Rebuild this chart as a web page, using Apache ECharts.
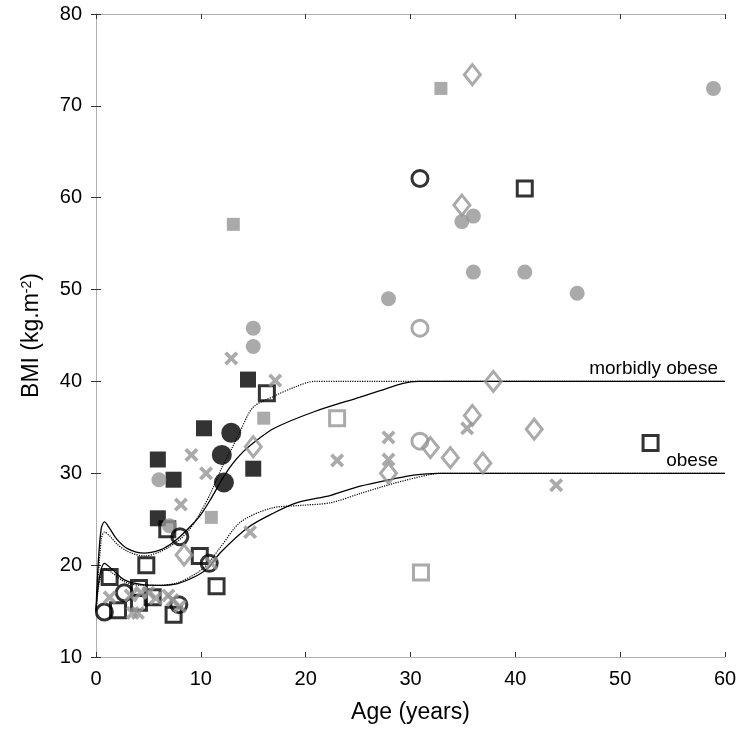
<!DOCTYPE html>
<html>
<head>
<meta charset="utf-8">
<script src="https://cdn.jsdelivr.net/npm/echarts@6/dist/echarts.min.js"></script>
<style>
  html, body { margin: 0; padding: 0; background: #fff; }
  #chart { width: 741px; height: 730px; }
</style>
</head>
<body>
<div id="chart"></div>
<script>
// 坐标轴刻度
var xTicks = [0, 10, 20, 30, 40, 50, 60];
var yTicks = [10, 20, 30, 40, 50, 60, 70, 80];

// 参考曲线 (年龄, BMI)
var upperSolid = [[0, 15], [0.2, 20], [0.5, 24], [0.8, 24.7], [1.3, 24.0], [2, 22.8], [3, 21.8], [4.6, 21.3], [6, 21.6], [7, 22.2], [8, 23.1], [9, 24.2], [10, 25.5], [11, 27.3], [12, 29.3], [13, 31.0], [14, 32.3], [15, 33.3], [17, 34.9], [20.8, 36.7], [25.2, 38.3], [27.1, 39], [29.3, 39.8], [30.7, 40], [60, 40]];
var upperDotted = [[0, 15], [0.5, 22.8], [0.8, 23.6], [1.3, 23.2], [2, 22.3], [3, 21.5], [4.6, 21.0], [6, 21.4], [7, 22], [8, 22.8], [9, 24], [10, 25.8], [11, 28], [12, 30.6], [13, 32.8], [13.8, 34.7], [15, 37.2], [17, 38.4], [19, 39.4], [20.8, 40], [60, 40]];
var lowerSolid = [[0, 15], [0.3, 18.5], [0.8, 20.2], [1.5, 19.6], [2.7, 18.4], [4.3, 17.9], [5.9, 17.8], [7.8, 18.0], [9.7, 18.9], [10.7, 19.7], [11.9, 21.4], [14.5, 24.1], [17, 25.7], [19.2, 26.8], [22.4, 27.6], [25.2, 28.6], [28.4, 29.4], [30.3, 29.8], [32.6, 30], [60, 30]];
var lowerDotted = [[0, 15], [0.3, 18], [0.8, 19.6], [1.5, 19.2], [2.7, 18.2], [4.3, 17.8], [5.9, 17.8], [7.8, 18.1], [9.7, 19.2], [10.7, 20.2], [11.9, 22.0], [13.8, 24.7], [16.7, 26.2], [19.5, 26.5], [22.4, 26.8], [25.2, 27.8], [28.4, 28.9], [31.6, 29.8], [33, 30], [60, 30]];

// 阈值标签
var thresholds = [40, 30];
var thresholdNames = ['morbidly obese', 'obese'];

// 散点数据 (年龄, BMI)
var blackSquare = [[10.3, 34.9], [5.9, 31.5], [7.4, 29.3], [5.9, 25.1], [14.5, 40.2], [15.0, 30.5]];
var greySquare = [[13.1, 57.1], [32.9, 71.9], [16.0, 36.0], [11.0, 25.2]];
var blackDot = [[12.9, 34.4], [12.0, 32.0], [12.2, 29.0]];
var greyDot = [[6.0, 29.3], [7.0, 24.3], [15.0, 45.8], [15.0, 43.8], [27.9, 49.0], [34.9, 57.4], [36.0, 58.0], [36.0, 51.9], [40.9, 51.9], [45.9, 49.6], [58.9, 71.9]];
var blackCircle = [[30.9, 62.1], [8.0, 23.1], [10.8, 20.2], [0.8, 14.9], [2.7, 17.0], [7.9, 15.7]];
var greyCircle = [[30.9, 45.8], [30.9, 33.5]];
var blackOpenSquare = [[16.3, 38.7], [40.9, 61.0], [52.9, 33.3], [6.8, 23.9], [9.9, 21.0], [4.8, 20.0], [1.3, 18.7], [11.5, 17.7], [2.1, 15.1], [4.1, 17.5], [5.4, 16.5], [4.1, 15.9], [7.4, 14.6]];
var greyOpenSquare = [[23.0, 36.0], [31.0, 19.2]];
var greyDiamond = [[35.9, 73.4], [34.9, 59.2], [37.9, 40.0], [35.9, 36.3], [41.8, 34.8], [31.9, 32.8], [33.8, 31.7], [36.9, 31.1], [27.9, 30.0], [15.0, 32.9], [8.4, 21.1]];
var greyCross = [[12.9, 42.5], [17.1, 40.1], [9.1, 32.0], [10.5, 30.0], [8.1, 26.6], [14.7, 23.6], [23.0, 31.4], [27.9, 33.9], [27.9, 31.5], [35.4, 34.9], [43.9, 28.7], [11.0, 20.2], [1.3, 16.5], [3.3, 16.7], [4.3, 17.0], [5.0, 17.0], [5.7, 16.4], [6.9, 16.7], [7.3, 16.2], [3.5, 14.8], [4.0, 14.8], [8.0, 15.5]];

var GREY = '#959595';
var FONT = 'Liberation Sans, Arial, sans-serif';
var crossPath = 'path://M3,0L8,5L13,0L16,3L11,8L16,13L13,16L8,11L3,16L0,13L5,8L0,3Z';

var chart = echarts.init(document.getElementById('chart'));

function curve(data, dotted, withLabel) {
    var s = {
        type: 'line',
        data: data,
        showSymbol: false,
        smooth: 0.3,
        silent: true,
        z: 1,
        lineStyle: { color: '#000', width: dotted ? 1.2 : 1.3, type: dotted ? 'dotted' : 'solid' }
    };
    if (withLabel !== undefined) {
        s.markPoint = {
            symbolSize: 0,
            silent: true,
            data: [{ coord: [60, thresholds[withLabel]] }],
            label: {
                show: true,
                position: 'left',
                offset: [-2, -13],
                formatter: thresholdNames[withLabel],
                color: '#000',
                fontSize: 19,
                fontFamily: FONT
            }
        };
    }
    return s;
}

function dots(data, symbol, size, fill, border, bw, z) {
    return {
        type: 'scatter',
        data: data,
        symbol: symbol,
        symbolSize: size,
        z: z,
        itemStyle: {
            color: fill,
            borderColor: border,
            borderWidth: bw
        }
    };
}

var axisCommon = {
    type: 'value',
    axisLine: { show: true, lineStyle: { color: '#b0b0b0', width: 1 } },
    axisTick: { show: true, inside: true, length: 5, lineStyle: { color: '#333' } },
    splitLine: { show: false }
};

var option = {
    animation: false,
    backgroundColor: '#fff',
    grid: { left: 96, right: 16, top: 14, bottom: 73, containLabel: false },
    xAxis: [
        Object.assign({}, axisCommon, {
            min: xTicks[0], max: xTicks[xTicks.length - 1], interval: 10,
            position: 'bottom',
            name: 'Age (years)',
            nameLocation: 'middle',
            nameGap: 44,
            nameTextStyle: { color: '#000', fontSize: 23, fontFamily: FONT },
            axisLabel: { color: '#000', fontSize: 20, margin: 12, fontFamily: FONT }
        }),
        Object.assign({}, axisCommon, {
            min: xTicks[0], max: xTicks[xTicks.length - 1], interval: 10,
            position: 'top',
            axisLabel: { show: false }
        })
    ],
    yAxis: [
        Object.assign({}, axisCommon, {
            min: yTicks[0], max: yTicks[yTicks.length - 1], interval: 10,
            position: 'left',
            name: 'BMI (kg.m{sup|-2})',
            nameLocation: 'middle',
            nameGap: 52,
            nameTextStyle: {
                color: '#000', fontSize: 23, fontFamily: FONT,
                rich: { sup: { fontSize: 14, verticalAlign: 'top', color: '#000', padding: [0, 0, 10, 0], fontFamily: FONT } }
            },
            axisLabel: { color: '#000', fontSize: 20, margin: 14, fontFamily: FONT }
        }),
        Object.assign({}, axisCommon, {
            min: yTicks[0], max: yTicks[yTicks.length - 1], interval: 10,
            position: 'right',
            axisLabel: { show: false }
        })
    ],
    series: [
        curve(upperSolid, false, 0),
        curve(upperDotted, true),
        curve(lowerSolid, false, 1),
        curve(lowerDotted, true),
        dots(blackSquare, 'rect', 16, '#000', '#000', 0, 3),
        dots(greySquare, 'rect', 13, GREY, GREY, 0, 3),
        dots(blackOpenSquare, 'rect', 15, 'rgba(0,0,0,0)', '#000', 3, 4),
        dots(greyOpenSquare, 'rect', 15, 'rgba(0,0,0,0)', GREY, 3, 4),
        dots(blackDot, 'circle', 20, '#000', '#000', 0, 4),
        dots(greyDot, 'circle', 15, GREY, GREY, 0, 5),
        dots(blackCircle, 'circle', 16, 'rgba(0,0,0,0)', '#000', 3, 5),
        dots(greyCircle, 'circle', 16, 'rgba(0,0,0,0)', GREY, 3, 5),
        dots(greyDiamond, 'diamond', [16, 20], 'rgba(0,0,0,0)', GREY, 3, 6),
        dots(greyCross, crossPath, 14, GREY, GREY, 0, 7)
    ]
};

chart.setOption(option);
</script>
</body>
</html>
